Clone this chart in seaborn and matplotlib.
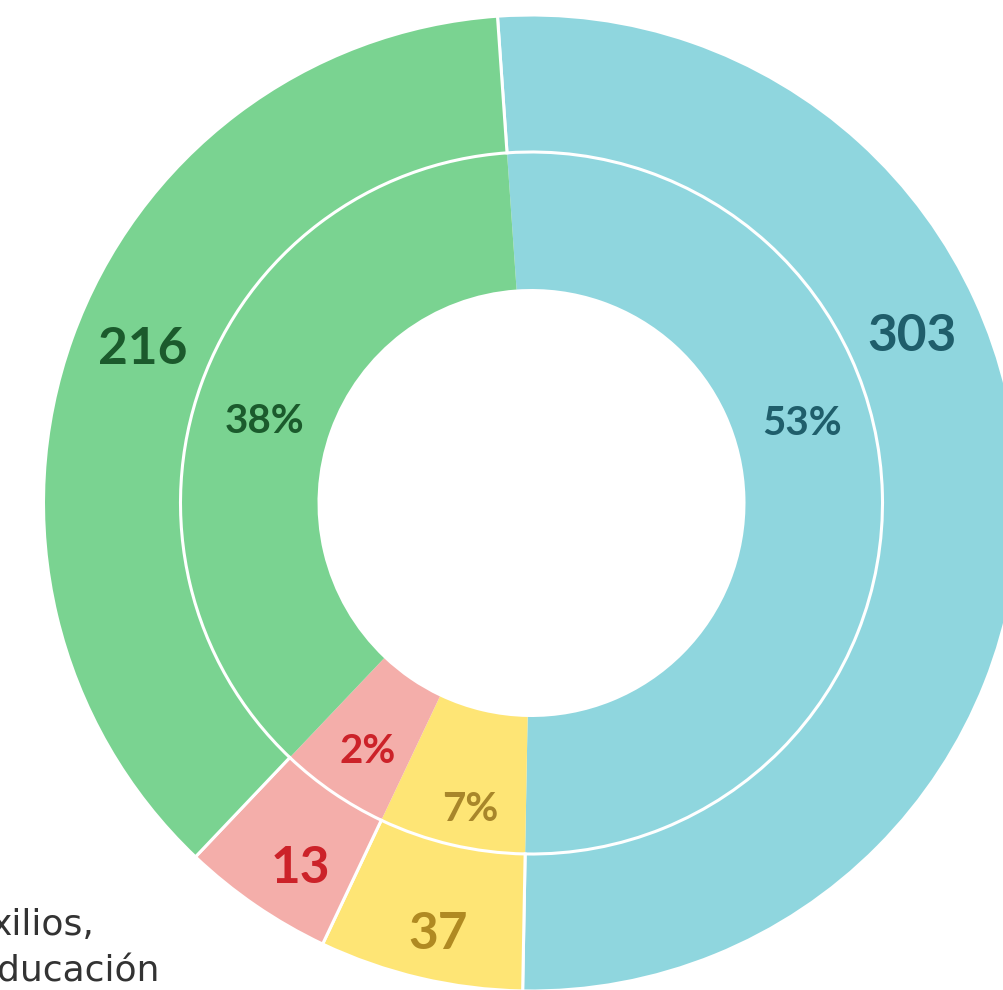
import numpy as np
import matplotlib
matplotlib.use('Agg')
import matplotlib.pyplot as plt
import seaborn as sns

sns.set_theme(style='white')
plt.rcParams['font.family'] = ['Lato', 'DejaVu Sans']

# data, clockwise from the top: blue, yellow, red, green
counts = [303, 37, 13, 216]
pct_labels = ['53%', '7%', '2%', '38%']
# share of the circle each wedge takes in the picture (in %)
drawn_share = [51.4, 6.75, 5.05, 36.8]
legend_bits = ['xilios,', 'ducación']

palette = sns.color_palette(['#8FD6DE', '#FEE575', '#F4AEAA', '#7AD391'])
count_colors = ['#1F5E6B', '#B08A22', '#CC2229', '#1B5A2C']
pct_colors = ['#1F5E6B', '#A8862A', '#CC2229', '#1B5A2C']

# label placement (radius px, angle deg) around the centre
count_pos = [(417, 24.2), (437, -102.4), (428, -122.6), (420, 157.9)]
pct_pos = [(283, 17.1), (309, -101.5), (294.5, -123.7), (280, 162.3)]

W, H = 1004, 990
cx, cy = 531.5, H - 503
r_out, r_mid, r_hole = 488, 351, 214

fig = plt.figure(figsize=(W / 100, H / 100), dpi=100)
ax = fig.add_axes([0, 0, 1, 1])

# inner ring first, so the white edge of the outer ring sits on top
ax.pie(drawn_share, radius=r_mid, center=(cx, cy), startangle=94,
       counterclock=False, colors=palette,
       wedgeprops=dict(width=r_mid - r_hole, linewidth=0))
ax.pie(drawn_share, radius=r_out, center=(cx, cy), startangle=94,
       counterclock=False, colors=palette,
       wedgeprops=dict(width=r_out - r_mid, edgecolor='white', linewidth=2.2))

for val, col, (r, a) in zip(counts, count_colors, count_pos):
    t = np.deg2rad(a)
    ax.text(cx + r * np.cos(t), cy + r * np.sin(t), str(val), color=col,
            fontsize=37, fontweight='bold', ha='center', va='center_baseline')

for lab, col, (r, a) in zip(pct_labels, pct_colors, pct_pos):
    t = np.deg2rad(a)
    ax.text(cx + r * np.cos(t), cy + r * np.sin(t), lab, color=col,
            fontsize=29, fontweight='bold', ha='center', va='center_baseline')

# legend text, cut off at the left edge like in the source
ax.text(-9, H - 935, legend_bits[0], color='#333333', fontsize=26,
        family='DejaVu Sans', ha='left', va='baseline')
ax.text(-3, H - 982, legend_bits[1], color='#333333', fontsize=26,
        family='DejaVu Sans', ha='left', va='baseline')

ax.set_xlim(0, W)
ax.set_ylim(0, H)
ax.set_aspect('equal')
ax.axis('off')

plt.savefig('out.png', dpi=100)
